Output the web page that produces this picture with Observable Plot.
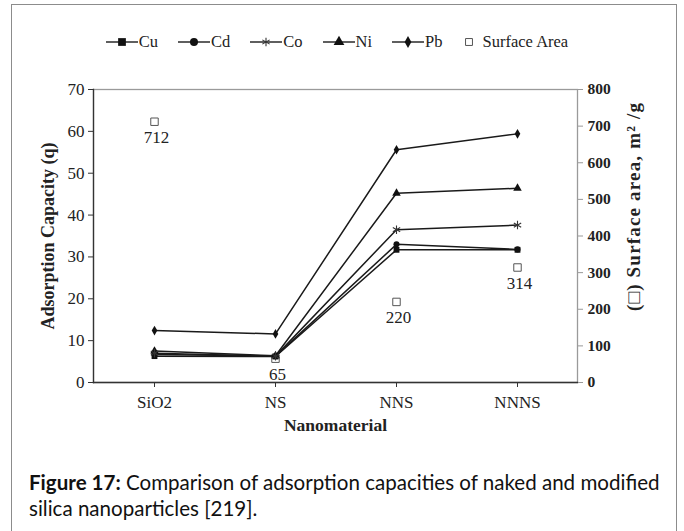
<!DOCTYPE html>
<html>
<head>
<meta charset="utf-8">
<script src="https://cdn.jsdelivr.net/npm/d3@7"></script>
<script src="https://cdn.jsdelivr.net/npm/@observablehq/plot@0.6"></script>
<style>
  html, body { margin: 0; padding: 0; background: #fff; }
  body { width: 684px; height: 531px; position: relative; overflow: hidden; font-family: "Liberation Serif", serif; }
  #box { position: absolute; left: 11px; top: 4px; width: 666px; height: 560px; border: 1.5px solid #8c8c8c; box-sizing: border-box; }
  #legend { position: absolute; left: 0; top: 32px; width: 674px; height: 20px; display: flex; justify-content: center; align-items: center; gap: 20px; font-size: 16.5px; color: #222; }
  #legend .item { display: flex; align-items: center; gap: 1px; }
  #chart { position: absolute; left: 0; top: 60px; }
  #chart svg text { font-family: "Liberation Serif", serif; }
  #caption { position: absolute; left: 29px; top: 469px; font-family: Lato, "Open Sans", sans-serif; font-size: 19px; line-height: 26px; color: #111; white-space: nowrap; }
  #caption b { font-weight: 700; }
</style>
</head>
<body>
<div id="box"></div>
<div id="legend"></div>
<div id="chart"></div>
<div id="caption"><span id="line1"><b>Figure 17:</b> Comparison of adsorption capacities of naked and modified</span><br>silica nanoparticles [219].</div>
<script>
// ---- data ----
const categories = ["SiO2", "NS", "NNS", "NNNS"];
const metals = ["Cu", "Cd", "Co", "Ni", "Pb"];
const cu = [6.3, 6.2, 31.7, 31.7];
const cd = [6.7, 6.3, 33.0, 31.8];
const co = [7.0, 6.3, 36.5, 37.6];
const ni = [7.5, 6.4, 45.2, 46.4];
const pb = [12.4, 11.6, 55.6, 59.4];
const surfaceArea = [712, 65, 220, 314];
const leftTicks = [0, 10, 20, 30, 40, 50, 60, 70];
const rightTicks = [0, 100, 200, 300, 400, 500, 600, 700, 800];
const symbols = ["square", "circle", "asterisk", "triangle", "diamond"];

const seriesValues = [cu, cd, co, ni, pb];
const rows = metals.flatMap((m, k) => categories.map((c, i) => ({metal: m, cat: c, q: seriesValues[k][i]})));
const QMAX = 70, SMAX = 800;
const toQ = s => s * QMAX / SMAX;
const saRows = categories.map((c, i) => ({cat: c, sa: surfaceArea[i]}));

const symScale = {domain: metals, range: symbols};
const FF = "Liberation Serif, serif";
const rightTitle = "(\u25A1) Surface area, m\u00B2 /g";

const chart = Plot.plot({
  width: 684,
  height: 385,
  marginTop: 29,
  marginLeft: 93,
  marginRight: 107,
  marginBottom: 63,
  style: {fontFamily: FF, fontSize: "17px", color: "#222", background: "transparent"},
  x: {type: "point", domain: categories, padding: 0.5},
  y: {domain: [0, QMAX]},
  symbol: symScale,
  marks: [
    Plot.frame({stroke: "#9a9a9a", strokeWidth: 1.3}),
    Plot.frame({anchor: "left", stroke: "#333", strokeWidth: 1.3}),
    Plot.frame({anchor: "bottom", stroke: "#333", strokeWidth: 1.3}),
    Plot.axisY(leftTicks, {anchor: "left", tickSize: 5, tickPadding: 4, fontSize: 17, fontFamily: FF, label: null, stroke: "#333"}),
    Plot.axisY(rightTicks.map(toQ), {anchor: "right", tickSize: 5, tickPadding: 5, fontSize: 15.5, fontFamily: FF, fontWeight: 600, label: null, stroke: "#999", tickFormat: d => String(Math.round(d * SMAX / QMAX))}),
    Plot.axisX({tickSize: 5, tickPadding: 8, fontSize: 17, fontFamily: FF, label: null, stroke: "#333"}),
    Plot.text(["Adsorption Capacity (q)"], {frameAnchor: "left", textAnchor: "middle", dx: -45, rotate: -90, fontWeight: "bold", fontSize: 18, fontFamily: FF, fill: "#222"}),
    Plot.text([rightTitle], {frameAnchor: "right", textAnchor: "middle", dx: 56, dy: -29, rotate: -90, fontWeight: "bold", fontSize: 19, fontFamily: FF, fill: "#222"}),
    Plot.text(["Nanomaterial"], {frameAnchor: "bottom", dy: 48, fontWeight: "bold", fontSize: 17.5, fontFamily: FF, fill: "#222"}),
    Plot.dot(saRows, {x: "cat", y: d => toQ(d.sa), symbol: "square", stroke: "#555", strokeWidth: 1, fill: "white", r: 4.2}),
    Plot.line(rows, {x: "cat", y: "q", z: "metal", stroke: "#1a1a1a", strokeWidth: 1.5}),
    Plot.dot(rows.filter(d => d.metal !== "Co"), {x: "cat", y: "q", symbol: "metal", fill: "#111", stroke: "none", r: d => d.metal === "Pb" ? 3.6 : d.metal === "Cu" ? 4.5 : d.metal === "Ni" ? 4.2 : 3.8}),
    Plot.dot(rows.filter(d => d.metal === "Co"), {x: "cat", y: "q", symbol: "metal", stroke: "#333", strokeWidth: 1.1, r: 4}),
    Plot.text(saRows, {x: "cat", y: d => toQ(d.sa), text: d => String(d.sa), dy: 16, dx: 2, fontSize: 17, fontFamily: FF, fill: "#222"})
  ]
});
document.getElementById("chart").appendChild(chart);
// stretch the right-axis title slightly toward its reference length
d3.select(chart).selectAll("text").filter(function() { return this.textContent === rightTitle; })
  .attr("textLength", 208).attr("lengthAdjust", "spacing");

// ---- legend ----
const legend = d3.select("#legend");
const symMap = {square: d3.symbolSquare, circle: d3.symbolCircle, asterisk: d3.symbolAsterisk, triangle: d3.symbolTriangle, diamond: d3.symbolDiamond};
metals.forEach((m, k) => {
  const item = legend.append("div").attr("class", "item");
  const svg = item.append("svg").attr("width", 32).attr("height", 14);
  svg.append("line").attr("x1", 0).attr("x2", 32).attr("y1", 7).attr("y2", 7).attr("stroke", "#1a1a1a").attr("stroke-width", 1.4);
  const sym = symbols[k];
  const size = sym === "diamond" ? 40 : sym === "square" ? 60 : 50;
  const p = svg.append("path").attr("transform", "translate(16,7)").attr("d", d3.symbol(symMap[sym], size)());
  if (sym === "asterisk") p.attr("fill", "none").attr("stroke", "#333").attr("stroke-width", 1.1);
  else p.attr("fill", "#111");
  item.append("span").text(m);
});
{
  const item = legend.append("div").attr("class", "item").style("gap", "8px");
  const svg = item.append("svg").attr("width", 12).attr("height", 14);
  svg.append("path").attr("transform", "translate(6,7)").attr("d", d3.symbol(d3.symbolSquare, 48)()).attr("fill", "white").attr("stroke", "#555");
  item.append("span").text("Surface Area");
}

// fit caption first line width (~631px)
const l1 = document.getElementById("line1");
const w = l1.getBoundingClientRect().width;
const cap = document.getElementById("caption");
const fs = 19 * 631 / w;
cap.style.fontSize = fs.toFixed(2) + "px";
</script>
</body>
</html>
